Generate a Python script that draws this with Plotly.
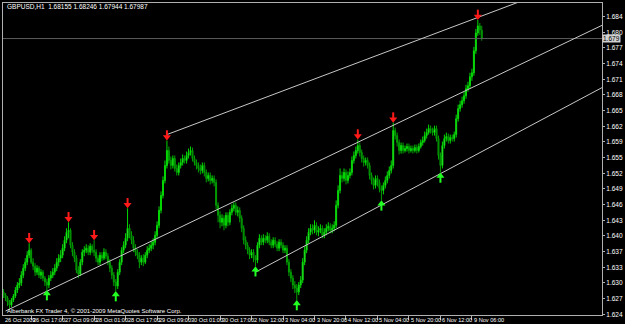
import plotly.graph_objects as go

# ---------------- data (GBPUSD H1) ----------------
opens = [
    1.6290, 1.6284, 1.6278, 1.6270, 1.6264, 1.6274, 1.6282, 1.6294, 1.6304, 1.6308,
    1.6324, 1.6338, 1.6350, 1.6364, 1.6374, 1.6350, 1.6342, 1.6330, 1.6338, 1.6324,
    1.6330, 1.6318, 1.6310, 1.6304, 1.6318, 1.6324, 1.6330, 1.6338, 1.6350, 1.6358,
    1.6364, 1.6378, 1.6394, 1.6410, 1.6414, 1.6384, 1.6370, 1.6358, 1.6334, 1.6326,
    1.6350, 1.6370, 1.6374, 1.6378, 1.6370, 1.6382, 1.6374, 1.6370, 1.6358, 1.6350,
    1.6364, 1.6358, 1.6370, 1.6362, 1.6350, 1.6338, 1.6324, 1.6310, 1.6302, 1.6330,
    1.6350, 1.6374, 1.6384, 1.6398, 1.6418, 1.6404, 1.6394, 1.6378, 1.6370, 1.6364,
    1.6350, 1.6358, 1.6350, 1.6364, 1.6374, 1.6378, 1.6384, 1.6390, 1.6404, 1.6424,
    1.6454, 1.6484, 1.6514, 1.6544, 1.6574, 1.6554, 1.6544, 1.6558, 1.6538, 1.6530,
    1.6544, 1.6550, 1.6558, 1.6554, 1.6564, 1.6570, 1.6574, 1.6558, 1.6550, 1.6544,
    1.6538, 1.6534, 1.6544, 1.6530, 1.6518, 1.6524, 1.6514, 1.6518, 1.6510, 1.6464,
    1.6444, 1.6430, 1.6438, 1.6424, 1.6444, 1.6430, 1.6450, 1.6458, 1.6464, 1.6450,
    1.6454, 1.6438, 1.6418, 1.6394, 1.6384, 1.6374, 1.6364, 1.6370, 1.6358, 1.6354,
    1.6384, 1.6398, 1.6390, 1.6398, 1.6394, 1.6402, 1.6390, 1.6384, 1.6394, 1.6386,
    1.6378, 1.6390, 1.6384, 1.6374, 1.6378, 1.6350, 1.6330, 1.6318, 1.6304, 1.6298,
    1.6290, 1.6304, 1.6314, 1.6350, 1.6374, 1.6394, 1.6410, 1.6418, 1.6414, 1.6424,
    1.6410, 1.6414, 1.6418, 1.6404, 1.6410, 1.6418, 1.6422, 1.6414, 1.6418, 1.6424,
    1.6464, 1.6494, 1.6524, 1.6518, 1.6530, 1.6514, 1.6524, 1.6530, 1.6554, 1.6564,
    1.6574, 1.6584, 1.6570, 1.6558, 1.6550, 1.6554, 1.6544, 1.6524, 1.6514, 1.6504,
    1.6518, 1.6510, 1.6498, 1.6494, 1.6504, 1.6514, 1.6524, 1.6534, 1.6544, 1.6614,
    1.6604, 1.6590, 1.6574, 1.6584, 1.6574, 1.6578, 1.6582, 1.6574, 1.6578, 1.6574,
    1.6580, 1.6574, 1.6582, 1.6590, 1.6594, 1.6604, 1.6610, 1.6618, 1.6614, 1.6610,
    1.6618, 1.6598, 1.6564, 1.6544, 1.6584, 1.6598, 1.6602, 1.6594, 1.6600, 1.6598,
    1.6606, 1.6638, 1.6658, 1.6666, 1.6674, 1.6684, 1.6698, 1.6704, 1.6722, 1.6730,
    1.6774, 1.6810, 1.6824, 1.68155,
]
highs = [
    1.6296, 1.6288, 1.6282, 1.6274, 1.6278, 1.6286, 1.6300, 1.6310, 1.6318, 1.6332,
    1.6346, 1.6358, 1.6372, 1.6388, 1.6378, 1.6358, 1.6348, 1.6344, 1.6342, 1.6336,
    1.6334, 1.6322, 1.6316, 1.6324, 1.6332, 1.6338, 1.6346, 1.6358, 1.6366, 1.6374,
    1.6386, 1.6402, 1.6418, 1.6430, 1.6418, 1.6390, 1.6376, 1.6364, 1.6342, 1.6356,
    1.6376, 1.6382, 1.6386, 1.6384, 1.6388, 1.6386, 1.6394, 1.6376, 1.6364, 1.6370,
    1.6370, 1.6378, 1.6376, 1.6368, 1.6356, 1.6344, 1.6330, 1.6316, 1.6336, 1.6356,
    1.6380, 1.6392, 1.6408, 1.6458, 1.6426, 1.6412, 1.6402, 1.6386, 1.6376, 1.6370,
    1.6364, 1.6366, 1.6370, 1.6382, 1.6386, 1.6392, 1.6398, 1.6412, 1.6432, 1.6462,
    1.6492, 1.6522, 1.6554, 1.6594, 1.6582, 1.6562, 1.6564, 1.6564, 1.6546, 1.6550,
    1.6558, 1.6566, 1.6564, 1.6572, 1.6578, 1.6582, 1.6580, 1.6564, 1.6556, 1.6550,
    1.6546, 1.6550, 1.6550, 1.6536, 1.6530, 1.6530, 1.6524, 1.6524, 1.6516, 1.6470,
    1.6452, 1.6446, 1.6444, 1.6450, 1.6450, 1.6456, 1.6466, 1.6470, 1.6470, 1.6462,
    1.6460, 1.6444, 1.6424, 1.6402, 1.6390, 1.6380, 1.6376, 1.6376, 1.6364, 1.6390,
    1.6406, 1.6404, 1.6406, 1.6404, 1.6410, 1.6408, 1.6396, 1.6400, 1.6400, 1.6392,
    1.6396, 1.6396, 1.6390, 1.6384, 1.6384, 1.6356, 1.6336, 1.6324, 1.6312, 1.6306,
    1.6310, 1.6322, 1.6358, 1.6382, 1.6402, 1.6418, 1.6426, 1.6426, 1.6434, 1.6430,
    1.6422, 1.6426, 1.6424, 1.6418, 1.6426, 1.6430, 1.6428, 1.6426, 1.6432, 1.6474,
    1.6504, 1.6538, 1.6532, 1.6538, 1.6536, 1.6532, 1.6538, 1.6562, 1.6572, 1.6582,
    1.6596, 1.6590, 1.6576, 1.6564, 1.6560, 1.6560, 1.6550, 1.6530, 1.6520, 1.6524,
    1.6524, 1.6516, 1.6504, 1.6510, 1.6522, 1.6532, 1.6542, 1.6554, 1.6630, 1.6620,
    1.6610, 1.6596, 1.6590, 1.6590, 1.6584, 1.6588, 1.6588, 1.6584, 1.6584, 1.6586,
    1.6586, 1.6588, 1.6596, 1.6602, 1.6612, 1.6618, 1.6626, 1.6624, 1.6620, 1.6624,
    1.6624, 1.6604, 1.6570, 1.6592, 1.6606, 1.6610, 1.6608, 1.6606, 1.6606, 1.6612,
    1.6646, 1.6666, 1.6674, 1.6682, 1.6692, 1.6706, 1.6712, 1.6730, 1.6738, 1.6782,
    1.6818, 1.6836, 1.6830, 1.68246,
]
lows = [
    1.6278, 1.6272, 1.6262, 1.6256, 1.6260, 1.6270, 1.6278, 1.6288, 1.6298, 1.6302,
    1.6318, 1.6332, 1.6344, 1.6358, 1.6346, 1.6334, 1.6322, 1.6324, 1.6318, 1.6316,
    1.6312, 1.6302, 1.6294, 1.6298, 1.6312, 1.6318, 1.6324, 1.6332, 1.6342, 1.6350,
    1.6358, 1.6372, 1.6388, 1.6398, 1.6378, 1.6362, 1.6350, 1.6328, 1.6318, 1.6322,
    1.6344, 1.6362, 1.6368, 1.6364, 1.6364, 1.6368, 1.6362, 1.6350, 1.6344, 1.6344,
    1.6352, 1.6354, 1.6356, 1.6344, 1.6330, 1.6316, 1.6302, 1.6292, 1.6296, 1.6324,
    1.6344, 1.6368, 1.6378, 1.6392, 1.6398, 1.6386, 1.6370, 1.6362, 1.6356, 1.6338,
    1.6344, 1.6342, 1.6346, 1.6358, 1.6368, 1.6372, 1.6376, 1.6384, 1.6398, 1.6418,
    1.6448, 1.6478, 1.6508, 1.6538, 1.6548, 1.6536, 1.6538, 1.6532, 1.6524, 1.6524,
    1.6538, 1.6544, 1.6548, 1.6548, 1.6558, 1.6564, 1.6552, 1.6544, 1.6536, 1.6530,
    1.6526, 1.6528, 1.6522, 1.6510, 1.6512, 1.6506, 1.6508, 1.6502, 1.6456, 1.6430,
    1.6418, 1.6422, 1.6414, 1.6418, 1.6422, 1.6424, 1.6444, 1.6452, 1.6444, 1.6442,
    1.6430, 1.6410, 1.6386, 1.6376, 1.6366, 1.6356, 1.6358, 1.6350, 1.6342, 1.6348,
    1.6378, 1.6384, 1.6384, 1.6388, 1.6388, 1.6384, 1.6378, 1.6378, 1.6380, 1.6372,
    1.6372, 1.6378, 1.6368, 1.6368, 1.6344, 1.6322, 1.6310, 1.6296, 1.6288, 1.6274,
    1.6284, 1.6298, 1.6308, 1.6344, 1.6368, 1.6388, 1.6404, 1.6406, 1.6408, 1.6404,
    1.6402, 1.6408, 1.6398, 1.6398, 1.6404, 1.6412, 1.6408, 1.6408, 1.6412, 1.6418,
    1.6458, 1.6488, 1.6510, 1.6512, 1.6506, 1.6508, 1.6518, 1.6524, 1.6548, 1.6558,
    1.6568, 1.6562, 1.6550, 1.6542, 1.6544, 1.6538, 1.6516, 1.6506, 1.6496, 1.6498,
    1.6502, 1.6490, 1.6474, 1.6486, 1.6498, 1.6508, 1.6518, 1.6528, 1.6538, 1.6596,
    1.6582, 1.6566, 1.6568, 1.6568, 1.6570, 1.6572, 1.6568, 1.6570, 1.6568, 1.6570,
    1.6568, 1.6570, 1.6578, 1.6584, 1.6590, 1.6598, 1.6606, 1.6608, 1.6604, 1.6604,
    1.6592, 1.6556, 1.6530, 1.6538, 1.6578, 1.6592, 1.6588, 1.6588, 1.6592, 1.6592,
    1.6600, 1.6632, 1.6652, 1.6660, 1.6668, 1.6678, 1.6692, 1.6698, 1.6714, 1.6724,
    1.6768, 1.6804, 1.6806, 1.67944,
]
closes = [
    1.6284, 1.6278, 1.6270, 1.6264, 1.6274, 1.6282, 1.6294, 1.6304, 1.6308, 1.6324,
    1.6338, 1.6350, 1.6364, 1.6374, 1.6350, 1.6342, 1.6330, 1.6338, 1.6324, 1.6330,
    1.6318, 1.6310, 1.6304, 1.6318, 1.6324, 1.6330, 1.6338, 1.6350, 1.6358, 1.6364,
    1.6378, 1.6394, 1.6410, 1.6414, 1.6384, 1.6370, 1.6358, 1.6334, 1.6326, 1.6350,
    1.6370, 1.6374, 1.6378, 1.6370, 1.6382, 1.6374, 1.6370, 1.6358, 1.6350, 1.6364,
    1.6358, 1.6370, 1.6362, 1.6350, 1.6338, 1.6324, 1.6310, 1.6302, 1.6330, 1.6350,
    1.6374, 1.6384, 1.6398, 1.6418, 1.6404, 1.6394, 1.6378, 1.6370, 1.6364, 1.6350,
    1.6358, 1.6350, 1.6364, 1.6374, 1.6378, 1.6384, 1.6390, 1.6404, 1.6424, 1.6454,
    1.6484, 1.6514, 1.6544, 1.6574, 1.6554, 1.6544, 1.6558, 1.6538, 1.6530, 1.6544,
    1.6550, 1.6558, 1.6554, 1.6564, 1.6570, 1.6574, 1.6558, 1.6550, 1.6544, 1.6538,
    1.6534, 1.6544, 1.6530, 1.6518, 1.6524, 1.6514, 1.6518, 1.6510, 1.6464, 1.6444,
    1.6430, 1.6438, 1.6424, 1.6444, 1.6430, 1.6450, 1.6458, 1.6464, 1.6450, 1.6454,
    1.6438, 1.6418, 1.6394, 1.6384, 1.6374, 1.6364, 1.6370, 1.6358, 1.6354, 1.6384,
    1.6398, 1.6390, 1.6398, 1.6394, 1.6402, 1.6390, 1.6384, 1.6394, 1.6386, 1.6378,
    1.6390, 1.6384, 1.6374, 1.6378, 1.6350, 1.6330, 1.6318, 1.6304, 1.6298, 1.6290,
    1.6304, 1.6314, 1.6350, 1.6374, 1.6394, 1.6410, 1.6418, 1.6414, 1.6424, 1.6410,
    1.6414, 1.6418, 1.6404, 1.6410, 1.6418, 1.6422, 1.6414, 1.6418, 1.6424, 1.6464,
    1.6494, 1.6524, 1.6518, 1.6530, 1.6514, 1.6524, 1.6530, 1.6554, 1.6564, 1.6574,
    1.6584, 1.6570, 1.6558, 1.6550, 1.6554, 1.6544, 1.6524, 1.6514, 1.6504, 1.6518,
    1.6510, 1.6498, 1.6494, 1.6504, 1.6514, 1.6524, 1.6534, 1.6544, 1.6614, 1.6604,
    1.6590, 1.6574, 1.6584, 1.6574, 1.6578, 1.6582, 1.6574, 1.6578, 1.6574, 1.6580,
    1.6574, 1.6582, 1.6590, 1.6594, 1.6604, 1.6610, 1.6618, 1.6614, 1.6610, 1.6618,
    1.6598, 1.6564, 1.6544, 1.6584, 1.6598, 1.6602, 1.6594, 1.6600, 1.6598, 1.6606,
    1.6638, 1.6658, 1.6666, 1.6674, 1.6684, 1.6698, 1.6704, 1.6722, 1.6730, 1.6774,
    1.6810, 1.6824, 1.6816, 1.67987,
]
bars = list(range(len(closes)))

# time-axis labels (bar index -> label)
first_time_label = "26 Oct 2009"
time_tick_bars = [14, 30, 46, 62, 78, 94, 110, 126, 142, 158, 174, 190, 206, 222, 238]
time_tick_labels = ["26 Oct 17:00", "27 Oct 09:00", "28 Oct 01:00", "28 Oct 17:00",
                    "29 Oct 09:00", "30 Oct 01:00", "30 Oct 17:00", "2 Nov 12:00",
                    "3 Nov 04:00", "3 Nov 20:00", "4 Nov 12:00", "5 Nov 04:00",
                    "5 Nov 20:00", "6 Nov 12:00", "9 Nov 06:00"]

# price-axis labels
price_tick_vals = [1.62454, 1.62768, 1.63083, 1.63397, 1.63712, 1.64026, 1.64340,
                   1.64655, 1.64969, 1.65284, 1.65598, 1.65912, 1.66227, 1.66541,
                   1.66856, 1.67170, 1.67484, 1.67799, 1.68113, 1.68428]
price_tick_text = ["1.624", "1.627", "1.630", "1.633", "1.637", "1.640", "1.643",
                   "1.646", "1.649", "1.652", "1.655", "1.659", "1.662", "1.665",
                   "1.668", "1.671", "1.674", "1.677", "1.680", "1.684"]

# fractals
up_fractal_bars = [13, 33, 46, 63, 83, 180, 198, 241]
down_fractal_bars = [22, 57, 128, 149, 192, 222]

# trend channel lines (bar, price) pairs
top_line = ([83, 241], [1.6606, 1.6841])
mid_line = ([1, 304], [1.6252, 1.6825])
bot_line = ([128, 304], [1.6330, 1.6700])

symbol_text = "GBPUSD,H1"
header_values = ["1.68155", "1.68246", "1.67944", "1.67987"]
bid_price = closes[-1]
bid_label = "1.679"
copyright_text = "Alberbank FX Trader 4, © 2001-2009 MetaQuotes Software Corp."

# ---------------- figure ----------------
X_MIN, X_MAX = -0.3, 304.1
Y_MIN, Y_MAX = 1.6244, 1.6870
PX = (Y_MAX - Y_MIN) / 313.0   # price per pixel
FONT = "Liberation Sans"

fig = go.Figure()

def ray(line):
    (x0, x1), (y0, y1) = line
    slope = (y1 - y0) / (x1 - x0)
    xe = X_MAX + 5
    return [x0, xe], [y0, y0 + slope * (xe - x0)]

# bid line
fig.add_trace(go.Scatter(x=[X_MIN, X_MAX], y=[bid_price, bid_price], mode="lines",
                         line=dict(color="#5a5a5a", width=1), hoverinfo="skip"))

for ln in (top_line, mid_line, bot_line):
    xs, ys = ray(ln)
    fig.add_trace(go.Scatter(x=xs, y=ys, mode="lines",
                             line=dict(color="#c8c8c8", width=1), hoverinfo="skip"))

fig.add_trace(go.Candlestick(
    x=bars, open=opens, high=highs, low=lows, close=closes,
    increasing=dict(line=dict(color="#00d800", width=1), fillcolor="#a8ffa8"),
    decreasing=dict(line=dict(color="#00a000", width=1), fillcolor="#005800"),
    whiskerwidth=0, hoverinfo="skip"))

# fractal arrows: head (triangle) + stem (short thick line)
RED, LIME = "#ff1a1a", "#22ff22"
fig.add_trace(go.Scatter(
    x=up_fractal_bars, y=[highs[i] + 3.5 * PX for i in up_fractal_bars], mode="markers",
    marker=dict(symbol="triangle-down", size=7, color=RED, line=dict(width=0)),
    hoverinfo="skip"))
fig.add_trace(go.Scatter(
    x=up_fractal_bars, y=[highs[i] + 7.5 * PX for i in up_fractal_bars], mode="markers",
    marker=dict(symbol="line-ns", size=4, line=dict(color=RED, width=2)),
    hoverinfo="skip"))
fig.add_trace(go.Scatter(
    x=down_fractal_bars, y=[lows[i] - 3.5 * PX for i in down_fractal_bars], mode="markers",
    marker=dict(symbol="triangle-up", size=7, color=LIME, line=dict(width=0)),
    hoverinfo="skip"))
fig.add_trace(go.Scatter(
    x=down_fractal_bars, y=[lows[i] - 7.5 * PX for i in down_fractal_bars], mode="markers",
    marker=dict(symbol="line-ns", size=4, line=dict(color=LIME, width=2)),
    hoverinfo="skip"))

annotations = []
# header
annotations.append(dict(xref="paper", yref="paper", x=0.004, y=0.988, xanchor="left",
                        yanchor="middle", showarrow=False,
                        text=symbol_text + "  " + " ".join(header_values),
                        font=dict(family=FONT, size=6.5, color="white")))
# copyright
annotations.append(dict(xref="paper", yref="paper", x=0.004, y=0.013, xanchor="left",
                        yanchor="middle", showarrow=False, text=copyright_text,
                        font=dict(family=FONT, size=6, color="white")))
# time labels
annotations.append(dict(xref="x", yref="paper", x=X_MIN, y=-0.016, xanchor="left",
                        yanchor="middle", showarrow=False, text=first_time_label,
                        font=dict(family=FONT, size=5.6, color="white")))
for b, t in zip(time_tick_bars, time_tick_labels):
    annotations.append(dict(xref="x", yref="paper", x=b, y=-0.016, xanchor="left",
                            yanchor="middle", showarrow=False, text=t, xshift=0,
                            font=dict(family=FONT, size=5.6, color="white")))
# bid price label
annotations.append(dict(xref="paper", yref="y", x=1.0, y=bid_price, xanchor="left",
                        yanchor="middle", showarrow=False, text=bid_label,
                        bgcolor="#d0d0d0", borderpad=0,
                        font=dict(family=FONT, size=6.5, color="black")))

fig.update_layout(
    width=625, height=324,
    margin=dict(l=2, r=20, t=2, b=9),
    paper_bgcolor="black", plot_bgcolor="black",
    showlegend=False,
    annotations=annotations,
    xaxis=dict(range=[X_MIN, X_MAX], rangeslider=dict(visible=False),
               showgrid=False, zeroline=False, showline=True, mirror=True,
               linecolor="#b0b0b0", linewidth=1,
               tickmode="array", tickvals=time_tick_bars, ticks="outside",
               ticklen=4, tickcolor="#b0b0b0", showticklabels=False),
    yaxis=dict(range=[Y_MIN, Y_MAX], side="right",
               showgrid=False, zeroline=False, showline=True, mirror=True,
               linecolor="#b0b0b0", linewidth=1,
               tickmode="array", tickvals=price_tick_vals, ticktext=price_tick_text,
               ticks="outside", ticklen=2, tickcolor="#b0b0b0",
               tickfont=dict(family=FONT, size=6.5, color="white")),
)

fig.write_html("out.html")
